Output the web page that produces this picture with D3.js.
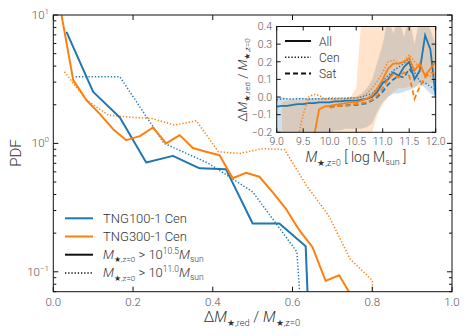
<!DOCTYPE html>
<html>
<head>
<meta charset="utf-8">
<script src="https://cdn.jsdelivr.net/npm/d3@7"></script>
<style>
  body { margin: 0; background: #fff; }
  svg text { font-family: Roboto, "Liberation Sans", "DejaVu Sans", sans-serif; font-weight: 300; }
</style>
</head>
<body>
<div id="chart"></div>
<script>
// main panel: PDF of the red-mass fraction (bin centres, PDF values)
const tng100BigX = [0.033, 0.100, 0.167, 0.233, 0.300, 0.367, 0.433, 0.500, 0.567, 0.633, 0.700];
const tng100BigY = [7.4, 2.52, 1.59, 0.71, 0.80, 0.64, 0.63, 0.238, 0.238, 0.158, 0];
const tng300BigX = [0.017, 0.050, 0.083, 0.117, 0.150, 0.183, 0.217, 0.250, 0.283, 0.317, 0.350, 0.383,
                    0.417, 0.450, 0.483, 0.517, 0.550, 0.583, 0.617, 0.650, 0.683, 0.717, 0.750];
const tng300BigY = [11.5, 3.11, 2.18, 1.69, 1.29, 1.06, 1.14, 1.33, 1.0, 1.16, 0.92, 0.86,
                    0.81, 0.535, 0.59, 0.55, 0.417, 0.311, 0.211, 0.156, 0.085, 0.094, 0.063];
const tng100HiX = [0.056, 0.167, 0.278, 0.389, 0.500, 0.611, 0.722];
const tng100HiY = [3.30, 3.30, 1.0, 0.70, 0.42, 0.143, 0];
const tng300HiX = [0.028, 0.083, 0.138, 0.193, 0.248, 0.304, 0.359, 0.414, 0.469, 0.524, 0.580,
                   0.635, 0.690, 0.745, 0.800, 0.855];
const tng300HiY = [3.61, 2.18, 1.66, 1.60, 1.56, 1.39, 1.50, 0.86, 0.836, 0.91, 0.895,
                   0.47, 0.276, 0.125, 0.086, 0];
const xTicks = [0.0, 0.2, 0.4, 0.6, 0.8, 1.0];
const yMajor = [["10", "1", 10], ["10", "\u22121", 0.1], ["10", "0", 1]];

// inset: median ΔM/M vs stellar mass (null = no value)
const massX = [9.0, 9.1, 9.2, 9.3, 9.4, 9.5, 9.6, 9.7, 9.8, 9.9, 10.0, 10.1, 10.2, 10.3, 10.4, 10.5,
               10.6, 10.7, 10.8, 10.9, 11.0, 11.1, 11.2, 11.3, 11.4, 11.5, 11.6, 11.7, 11.8, 11.9, 12.0];
const tng100All = [-0.055, -0.05, -0.05, -0.045, -0.04, -0.04, -0.035, -0.035, -0.03, -0.03, -0.03, -0.025,
                   -0.025, -0.02, -0.02, -0.02, -0.015, -0.01, 0.0, 0.03, 0.08, 0.10, 0.14, 0.12, 0.17, 0.20,
                   0.10, 0.15, 0.35, 0.27, 0.0];
const tng100Cen = [-0.015, -0.01, -0.01, -0.012, -0.01, -0.01, -0.012, -0.01, -0.01, -0.01, -0.01, -0.01,
                   -0.008, -0.008, -0.005, -0.005, 0.0, 0.01, 0.02, 0.05, 0.09, 0.12, 0.15, 0.17, 0.19, 0.22,
                   0.14, 0.09, 0.08, 0.06, 0.04];
const tng100Sat = [null, null, null, null, null, null, null, null, null, null, -0.055, -0.05,
                   -0.05, -0.048, -0.045, -0.045, -0.04, -0.035, -0.02, 0.0, 0.03, 0.07, 0.10, 0.12, 0.11, 0.16,
                   0.12, null, null, null, null];
const tng300All = [null, null, null, null, null, null, null, -0.23, -0.07, -0.055, -0.05, -0.045,
                   -0.04, -0.035, -0.03, -0.03, -0.02, -0.01, 0.01, 0.05, 0.10, 0.16, 0.19, 0.19, 0.20, 0.22,
                   0.15, 0.19, 0.12, 0.16, 0.20];
const tng300Cen = [null, null, null, null, -0.23, -0.1, 0.0, 0.015, 0.01, -0.01, -0.005, -0.005,
                   -0.005, -0.005, -0.005, -0.003, 0.0, 0.02, 0.05, 0.09, 0.14, 0.20, 0.21, 0.19, 0.20, 0.24,
                   0.20, 0.16, 0.13, 0.12, 0.10];
const tng300Sat = [null, null, null, null, null, null, null, null, null, null, -0.06, -0.055,
                   -0.05, -0.05, -0.045, -0.04, -0.035, -0.03, -0.015, 0.01, 0.05, 0.10, 0.13, 0.11, 0.14, 0.12,
                   -0.01, 0.06, 0.11, 0.14, 0.13];
// 16-84 percentile bands
const tng100Lo = [-0.3, -0.3, -0.3, -0.3, -0.3, -0.3, -0.3, -0.3, -0.3, -0.3, -0.2, -0.19,
                  -0.19, -0.18, -0.18, -0.18, -0.18, -0.17, -0.15, -0.08, -0.03, 0.0, 0.02, 0.02, 0.03, 0.04,
                  0.05, 0.08, 0.05, 0.02, 0.0];
const tng100Hi = [0.0, 0.0, -0.01, -0.01, -0.005, -0.005, -0.005, -0.005, -0.005, -0.005, -0.005, -0.005,
                  -0.005, -0.005, 0.0, 0.0, 0.02, 0.05, 0.10, 0.20, 0.30, 0.45, 0.36, 0.45, 0.34, 0.45,
                  0.30, 0.45, 0.45, 0.38, 0.30];
const tng300Lo = [null, -0.3, -0.3, -0.3, -0.3, -0.3, -0.3, -0.3, -0.3, -0.3, -0.3, -0.3,
                  -0.3, -0.3, -0.3, -0.3, -0.3, -0.3, -0.2, -0.1, -0.04, 0.0, 0.03, 0.05, 0.05, 0.06,
                  0.06, 0.06, 0.07, 0.08, 0.08];
const tng300Hi = [null, -0.03, -0.02, -0.02, -0.02, -0.02, -0.01, -0.01, -0.01, -0.01, -0.01, -0.01,
                  -0.01, -0.01, 0.0, 0.05, 0.45, 0.45, 0.45, 0.45, 0.45, 0.45, 0.45, 0.45, 0.45, 0.45,
                  0.45, 0.45, 0.45, 0.45, 0.45];
const insetXTicks = [9.0, 9.5, 10.0, 10.5, 11.0, 11.5, 12.0];
const insetYTicks = [-0.2, -0.1, 0.0, 0.1, 0.2, 0.3, 0.4];

const blue = "#1f77b4", orange = "#ff7f0e";
const dotted = "1.3,1.9", dashed = "5,3";

const svg = d3.select("#chart").append("svg").attr("width", 470).attr("height", 336);

// ---------- main axes ----------
const x = d3.scaleLinear().domain([0, 1]).range([53.3, 452]);
const y = d3.scaleLog().domain([0.07, 10]).range([291.7, 15]);

svg.append("clipPath").attr("id", "mainClip").append("rect")
  .attr("x", 53.3).attr("y", 15).attr("width", 452 - 53.3).attr("height", 291.7 - 15);

const mainLine = d3.line()
  .x(d => x(d[0]))
  .y(d => y(Math.max(d[1], 1e-6)));

const mainG = svg.append("g").attr("clip-path", "url(#mainClip)");
const mainSeries = [
  [tng100HiX, tng100HiY, blue, dotted, 1.5],
  [tng300HiX, tng300HiY, orange, dotted, 1.5],
  [tng100BigX, tng100BigY, blue, null, 2],
  [tng300BigX, tng300BigY, orange, null, 2]
];
mainSeries.forEach(([xs, ys, c, dash, w]) => {
  mainG.append("path")
    .datum(xs.map((v, i) => [v, ys[i]]))
    .attr("fill", "none")
    .attr("stroke", c)
    .attr("stroke-width", w)
    .attr("stroke-dasharray", dash)
    .attr("stroke-linejoin", "round")
    .attr("d", mainLine);
});

// frame
svg.append("rect")
  .attr("x", 53.3).attr("y", 15).attr("width", 452 - 53.3).attr("height", 291.7 - 15)
  .attr("fill", "none").attr("stroke", "#111").attr("stroke-width", 1);

// x ticks (inward, top and bottom)
xTicks.forEach(t => {
  svg.append("line").attr("x1", x(t)).attr("x2", x(t)).attr("y1", 291.7).attr("y2", 286.7)
    .attr("stroke", "#111");
  svg.append("line").attr("x1", x(t)).attr("x2", x(t)).attr("y1", 15).attr("y2", 20)
    .attr("stroke", "#111");
  svg.append("text").attr("x", x(t)).attr("y", 306).attr("text-anchor", "middle")
    .attr("font-size", 11.5).attr("fill", "#555").text(t.toFixed(1));
});

// y ticks: majors and minors from the log scale
y.ticks().forEach(t => {
  const major = Math.abs(Math.log10(t) - Math.round(Math.log10(t))) < 1e-9;
  const len = major ? 5 : 3;
  svg.append("line").attr("x1", 53.3).attr("x2", 53.3 + len).attr("y1", y(t)).attr("y2", y(t))
    .attr("stroke", "#111");
  svg.append("line").attr("x1", 452).attr("x2", 452 - len).attr("y1", y(t)).attr("y2", y(t))
    .attr("stroke", "#111");
});
yMajor.forEach(([b, e, v]) => {
  const tx = svg.append("text").attr("x", 49).attr("y", y(v) + 4).attr("text-anchor", "end")
    .attr("font-size", 11.5).attr("fill", "#555");
  tx.append("tspan").text(b);
  tx.append("tspan").attr("font-size", 8).attr("dy", -5).text(e);
});

// axis labels
svg.append("text").attr("transform", "translate(21,153) rotate(-90)")
  .attr("text-anchor", "middle").attr("font-size", 15).attr("fill", "#333").text("PDF");

function massSub(t, size, subText) {
  t.append("tspan").attr("font-style", "italic").attr("font-size", size).text("M");
  t.append("tspan").attr("font-size", size * 0.62).attr("dy", size * 0.25).text(subText);
}
const xl = svg.append("text").attr("x", 252).attr("y", 322).attr("text-anchor", "middle")
  .attr("fill", "#333");
xl.append("tspan").attr("font-size", 15).text("\u0394");
massSub(xl, 15, "\u2605,red");
xl.append("tspan").attr("font-size", 15).attr("dy", -15 * 0.25).text(" / ");
massSub(xl, 15, "\u2605,z=0");

// main legend
const legendRows = [
  { c: blue, dash: null, label: t => t.text("TNG100-1 Cen") },
  { c: orange, dash: null, label: t => t.text("TNG300-1 Cen") },
  { c: "#111", dash: null, label: t => massLimit(t, "10.5") },
  { c: "#111", dash: dotted, label: t => massLimit(t, "11.0") }
];
function massLimit(t, p) {
  massSub(t, 13, "\u2605,z=0");
  t.append("tspan").attr("font-size", 13).attr("dy", -13 * 0.25).text(" > 10");
  t.append("tspan").attr("font-size", 8.5).attr("dy", -5).text(p);
  t.append("tspan").attr("font-size", 13).attr("font-style", "italic").attr("dy", 5).text("M");
  t.append("tspan").attr("font-size", 8.5).attr("dy", 3).text("sun");
}
legendRows.forEach((r, i) => {
  const ly = 218.3 + i * 18.2;
  svg.append("line").attr("x1", 65).attr("x2", 93).attr("y1", ly).attr("y2", ly)
    .attr("stroke", r.c).attr("stroke-width", r.dash ? 1.5 : 2).attr("stroke-dasharray", r.dash);
  const t = svg.append("text").attr("x", 103).attr("y", ly + 4.5).attr("font-size", 13).attr("fill", "#333");
  r.label(t);
});

// ---------- inset ----------
const xi = d3.scaleLinear().domain([9, 12]).range([276.7, 435.7]);
const yi = d3.scaleLinear().domain([-0.2, 0.4]).range([132.3, 26.5]);

svg.append("rect").attr("x", 276.7).attr("y", 26.5).attr("width", 159).attr("height", 105.8)
  .attr("fill", "#fff");
svg.append("clipPath").attr("id", "insetClip").append("rect")
  .attr("x", 276.7).attr("y", 26.5).attr("width", 159).attr("height", 105.8);
const inG = svg.append("g").attr("clip-path", "url(#insetClip)");

const band = d3.area()
  .defined(d => d.lo != null && d.hi != null)
  .x(d => xi(d.m)).y0(d => yi(d.lo)).y1(d => yi(d.hi));
[[tng100Lo, tng100Hi, blue], [tng300Lo, tng300Hi, orange]].forEach(([lo, hi, c]) => {
  inG.append("path")
    .datum(massX.map((m, i) => ({ m, lo: lo[i], hi: hi[i] })))
    .attr("fill", c).attr("fill-opacity", 0.22).attr("d", band);
});

const insetLine = d3.line().defined(d => d.v != null).x(d => xi(d.m)).y(d => yi(d.v));
const insetSeries = [
  [tng100Cen, blue, dotted], [tng100Sat, blue, dashed], [tng100All, blue, null],
  [tng300Cen, orange, dotted], [tng300Sat, orange, dashed], [tng300All, orange, null]
];
insetSeries.forEach(([vals, c, dash]) => {
  inG.append("path")
    .datum(massX.map((m, i) => ({ m, v: vals[i] })))
    .attr("fill", "none").attr("stroke", c)
    .attr("stroke-width", dash === dotted ? 1.5 : 1.8)
    .attr("stroke-dasharray", dash)
    .attr("d", insetLine);
});

svg.append("rect").attr("x", 276.7).attr("y", 26.5).attr("width", 159).attr("height", 105.8)
  .attr("fill", "none").attr("stroke", "#111");

insetXTicks.forEach(t => {
  svg.append("line").attr("x1", xi(t)).attr("x2", xi(t)).attr("y1", 132.3).attr("y2", 128.3).attr("stroke", "#111");
  svg.append("line").attr("x1", xi(t)).attr("x2", xi(t)).attr("y1", 26.5).attr("y2", 30.5).attr("stroke", "#111");
  svg.append("text").attr("x", xi(t)).attr("y", 145).attr("text-anchor", "middle")
    .attr("font-size", 10.5).attr("fill", "#555").text(t.toFixed(1));
});
insetYTicks.forEach(t => {
  svg.append("line").attr("x1", 276.7).attr("x2", 280.7).attr("y1", yi(t)).attr("y2", yi(t)).attr("stroke", "#111");
  svg.append("line").attr("x1", 435.7).attr("x2", 431.7).attr("y1", yi(t)).attr("y2", yi(t)).attr("stroke", "#111");
  svg.append("text").attr("x", 272).attr("y", yi(t) + 3.8).attr("text-anchor", "end")
    .attr("font-size", 10.5).attr("fill", "#555").text(d3.format(".1f")(t).replace("-", "\u2212"));
});

// inset labels
const iy = svg.append("text").attr("transform", "translate(247,80) rotate(-90)")
  .attr("text-anchor", "middle").attr("fill", "#333");
iy.append("tspan").attr("font-size", 13).text("\u0394");
massSub(iy, 13, "\u2605,red");
iy.append("tspan").attr("font-size", 13).attr("dy", -13 * 0.25).text(" / ");
massSub(iy, 13, "\u2605,z=0");

const ix = svg.append("text").attr("x", 356).attr("y", 162).attr("text-anchor", "middle").attr("fill", "#333");
massSub(ix, 14, "\u2605,z=0");
ix.append("tspan").attr("font-size", 14).attr("dy", -14 * 0.25).text(" [ log M");
ix.append("tspan").attr("font-size", 9).attr("dy", 3).text("sun");
ix.append("tspan").attr("font-size", 14).attr("dy", -3).text(" ]");

// inset legend
[["All", null], ["Cen", dotted], ["Sat", dashed]].forEach(([lab, dash], i) => {
  const ly = 41 + i * 16.2;
  svg.append("line").attr("x1", 285).attr("x2", 311).attr("y1", ly).attr("y2", ly)
    .attr("stroke", "#111").attr("stroke-width", dash === dotted ? 1.5 : 2).attr("stroke-dasharray", dash);
  svg.append("text").attr("x", 319).attr("y", ly + 4.5).attr("font-size", 12).attr("fill", "#333").text(lab);
});
</script>
</body>
</html>
